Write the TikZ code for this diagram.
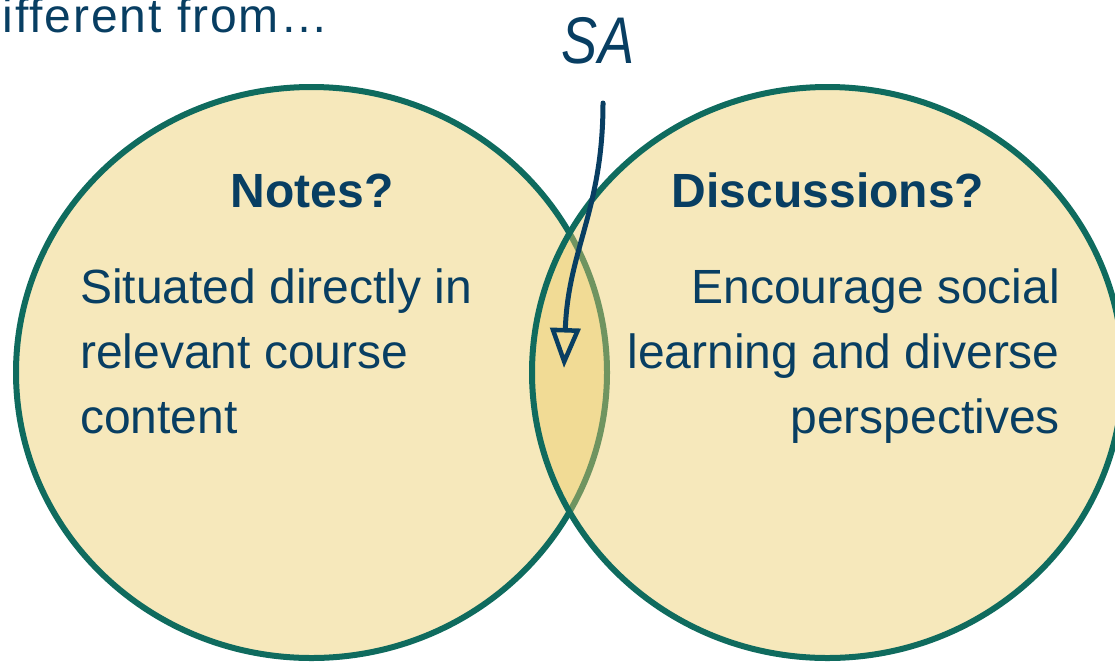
\documentclass[tikz,border=0pt]{standalone}
\usepackage{fontspec}
\setmainfont{Liberation Sans}
\usetikzlibrary{arrows.meta,shapes.geometric}
\definecolor{vteal}{RGB}{15,107,94}
\definecolor{vfill}{RGB}{234,202,100}
\definecolor{vtext}{RGB}{8,62,98}
\begin{document}
\begin{tikzpicture}[x=1pt,y=-1pt,
  venn/.style={ellipse, draw=vteal, line width=6pt, fill=vfill, fill opacity=0.44,
    minimum width=591pt, minimum height=571pt, inner sep=0pt},
  headtext/.style={font=\fontsize{48}{58}\selectfont\bfseries, text=vtext, inner sep=0pt},
  bodytext/.style={font=\fontsize{48}{58}\selectfont, text=vtext, inner sep=0pt},
  pointer/.style={draw=vtext, line width=5pt, line cap=round,
    -{Triangle[open, length=40pt, width=30pt, line width=4.5pt]}},
]
\useasboundingbox (0,0) rectangle (1115,665);
\clip (0,0) rectangle (1115,665);

% title (cut off at left, as in the reference)
\node[anchor=base east, font=\fontsize{48}{56}\selectfont\addfontfeature{LetterSpace=4}, text=vtext, inner sep=0pt]
  (title) at (329,32) {Different from…};

% circles
\node[venn] (L) at (311.5,372.5) {};
\node[venn] (R) at (827.5,372.5) {};

% headings
\node[headtext, anchor=base] (notes) at (312,207) {Notes?};
\node[headtext, anchor=base] (disc) at (828,207) {Discussions?};

% left body
\node[bodytext, anchor=base west] (l1) at (80,303) {Situated directly in};
\node[bodytext, anchor=base west] (l2) at (80,368) {relevant course};
\node[bodytext, anchor=base west] (l3) at (80,433) {content};

% right body
\node[bodytext, anchor=base east] (r1) at (1060,303) {Encourage social};
\node[bodytext, anchor=base east] (r2) at (1060,368) {learning and diverse};
\node[bodytext, anchor=base east] (r3) at (1060,433) {perspectives};

% SA label and arrow
\node[font=\fontsize{66}{70}\selectfont\itshape, text=vtext, inner sep=0pt, anchor=base, xscale=0.82]
  (sa) at (598,63) {SA};
\coordinate (astart) at (603,103);
\coordinate (aend) at (564,368);
\draw[pointer] (astart) .. controls (603,210) and (568,250) .. (aend);
\end{tikzpicture}
\end{document}
